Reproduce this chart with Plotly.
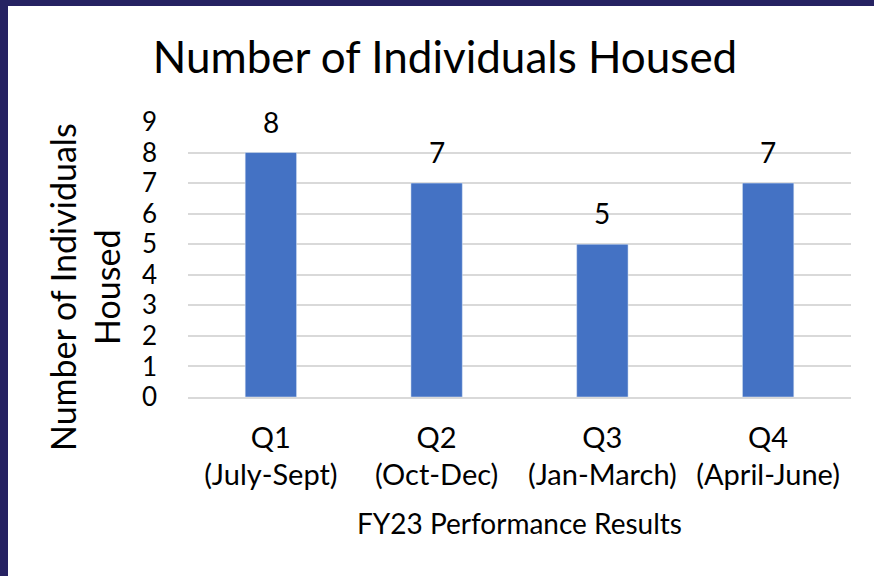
import plotly.graph_objects as go

categories = ["Q1<br>(July-Sept)", "Q2<br>(Oct-Dec)", "Q3<br>(Jan-March)", "Q4<br>(April-June)"]
values = [8, 7, 5, 7]
y_ticks = list(range(0, 10))

W, H = 874, 576
L, R, T, B = 188, 23, 122, 179
PW, PH = W - L - R, H - T - B
FONT = "Lato"
NAVY = "#262262"

def px_x(px):
    return (px - L) / PW

def px_y(py):
    return (H - B - py) / PH

fig = go.Figure(go.Bar(
    x=categories, y=values, marker_color="#4472C4",
    width=0.31,
))

labels = [
    dict(x=c, y=v, xref="x", yref="y", text=str(v), showarrow=False,
         yanchor="bottom", yshift=12, font=dict(size=28, family=FONT, color="black"))
    for c, v in zip(categories, values)
]

fig.update_layout(
    width=W, height=H,
    margin=dict(l=L, r=R, t=T, b=B),
    paper_bgcolor="white", plot_bgcolor="white",
    font=dict(family=FONT, color="black"),
    showlegend=False,
    title=dict(text="Number of Individuals Housed", x=445 / W, xanchor="center",
               y=1 - 58 / H, yanchor="middle", yref="container",
               font=dict(size=44, family=FONT, color="black")),
    xaxis=dict(showgrid=False, showline=True, linecolor="#D9D9D9", linewidth=1.5,
               tickfont=dict(size=29, family=FONT, color="black"),
               ticks="", ticklabelstandoff=14,
               title=dict(text="FY23 Performance Results", standoff=24,
                          font=dict(size=28, family=FONT, color="black"))),
    yaxis=dict(range=[0, 9], tickvals=y_ticks, showgrid=True, gridcolor="#D9D9D9",
               gridwidth=1.5, zeroline=False, showline=False, ticks="",
               tickfont=dict(size=26, family=FONT, color="black"),
               ticklabelstandoff=30),
    shapes=[
        dict(type="rect", xref="paper", yref="paper", x0=px_x(0), x1=px_x(8),
             y0=px_y(H), y1=px_y(0), fillcolor=NAVY, line_width=0, layer="above"),
        dict(type="rect", xref="paper", yref="paper", x0=px_x(0), x1=px_x(W),
             y0=px_y(6), y1=px_y(0), fillcolor=NAVY, line_width=0, layer="above"),
    ],
    annotations=labels + [
        dict(text="Number of Individuals<br>Housed", xref="paper", yref="paper",
             x=px_x(84), y=px_y(287), xanchor="center", yanchor="middle",
             textangle=-90, showarrow=False,
             font=dict(size=34, family=FONT, color="black")),
    ],
)

fig.write_html("out.html", config={"displayModeBar": False},
               post_script="document.body.style.margin='0';document.body.style.padding='0';")
